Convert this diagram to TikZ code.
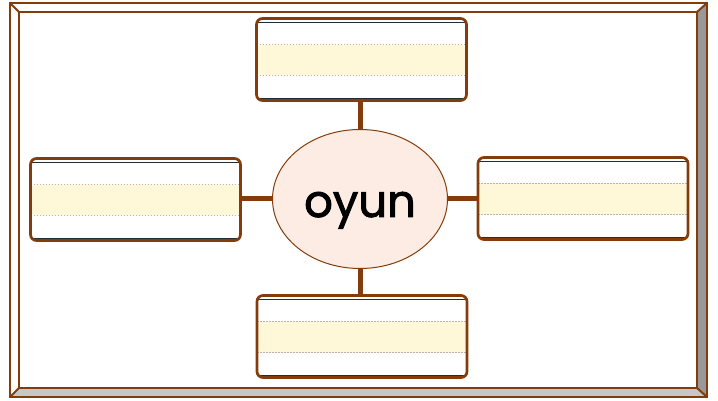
\documentclass[tikz,border=0pt]{standalone}
\usepackage{fontspec}
\usepackage{xcolor}
\usepackage{tikz}
\usetikzlibrary{shapes.geometric}
\newfontfamily\oyunfont[FakeBold=2]{Poppins}
\definecolor{frameBrown}{HTML}{843C0C}
\definecolor{bandYellow}{HTML}{FFF8D8}
\definecolor{ovalPink}{HTML}{FCECE3}
\definecolor{lineNavy}{HTML}{1F2F3A}
\definecolor{dotGray}{HTML}{BDB2AA}

\begin{document}
\begin{tikzpicture}[x=1pt,y=-1pt]
\tikzstyle{every node}+=[inner sep=0pt]
\tikzstyle{writebox}=[draw=frameBrown, line width=2.7pt, rounded corners=6pt, fill=white,
  minimum width=210pt, minimum height=82pt,
  path picture={
    \fill [bandYellow] ([yshift=-26pt]path picture bounding box.north west) rectangle ([yshift=25pt]path picture bounding box.south east);
    \draw [dotGray, line width=0.7pt, dash pattern=on 1.5pt off 1.5pt] ([yshift=-26pt]path picture bounding box.north west) -- ([yshift=-26pt]path picture bounding box.north east);
    \draw [dotGray, line width=0.7pt, dash pattern=on 1.5pt off 1.5pt] ([yshift=25pt]path picture bounding box.south west) -- ([yshift=25pt]path picture bounding box.south east);
    \draw [lineNavy, line width=0.9pt] ([yshift=-3.5pt]path picture bounding box.north west) -- ([yshift=-3.5pt]path picture bounding box.north east);
    \draw [lineNavy, line width=0.9pt] ([yshift=2.5pt]path picture bounding box.south west) -- ([yshift=2.5pt]path picture bounding box.south east);
  }]
\tikzstyle{link}=[frameBrown, line width=5pt]
\useasboundingbox (0,0) rectangle (718,401);
\fill [white] (0,0) rectangle (718,401);
\fill [white] (10,3) -- (707,3) -- (697,12) -- (19,12) -- cycle;
\fill [white] (10,3) -- (19,12) -- (19,388) -- (10,397) -- cycle;
\fill [black!40] (707,3) -- (707,397) -- (697,388) -- (697,12) -- cycle;
\fill [black!22] (10,397) -- (707,397) -- (697,388) -- (19,388) -- cycle;
\draw [frameBrown, line width=2.8pt] (10,3) rectangle (707,397);
\draw [frameBrown, line width=2.8pt] (19,12) rectangle (697,388);
\draw [frameBrown, line width=2pt] (10,3) -- (19,12);
\draw [frameBrown, line width=2pt] (707,3) -- (697,12);
\draw [frameBrown, line width=2pt] (10,397) -- (19,388);
\draw [frameBrown, line width=2pt] (707,397) -- (697,388);
\node [draw=frameBrown, line width=1pt, fill=ovalPink, ellipse, minimum width=175pt, minimum height=139pt] (oyun) at (360,199) {};
\node [anchor=base] (oyunText) at (360,217) {\oyunfont\fontsize{45}{45}\selectfont oyun};
\node [writebox] (topBox) at (361.5,59.5) {};
\node [writebox] (leftBox) at (135.5,199.5) {};
\node [writebox] (rightBox) at (583,198.5) {};
\node [writebox] (bottomBox) at (362,336.5) {};
\draw [link] (oyun.north) -- (oyun.north |- topBox.south);
\draw [link] (oyun.south) -- (oyun.south |- bottomBox.north);
\draw [link] (oyun.west) -- (oyun.west -| leftBox.east);
\draw [link] (oyun.east) -- (oyun.east -| rightBox.west);
\end{tikzpicture}
\end{document}
